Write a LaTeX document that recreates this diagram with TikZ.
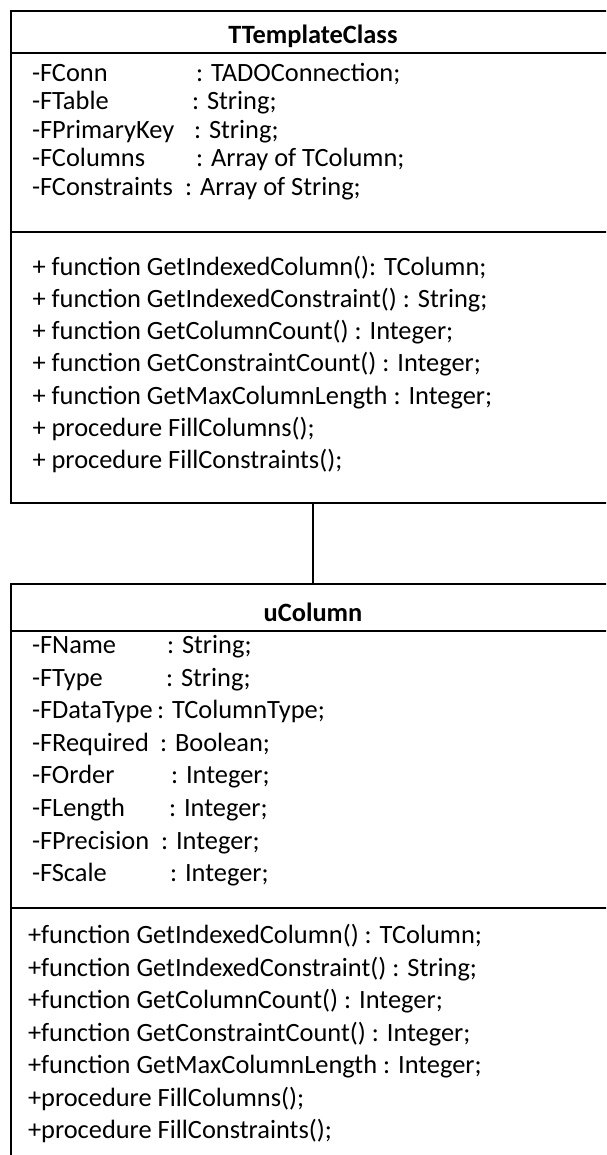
\documentclass[tikz,border=0pt]{standalone}
\usepackage{fontspec}
\setmainfont{Carlito}
\begin{document}
\begin{tikzpicture}[x=1pt,y=-1pt,line width=2pt,
  classbox/.style={draw,rectangle,anchor=north west,minimum width=604pt,outer sep=0pt,inner sep=0pt},
  row/.style={anchor=base west,inner sep=0pt,font=\fontsize{26.4}{32}\selectfont},
  classname/.style={anchor=base,inner sep=0pt,font=\fontsize{26.4}{32}\selectfont\bfseries}]
\useasboundingbox (0,0) rectangle (606,1155);
\clip (0,0) rectangle (606,1155);

% class boxes
\node[classbox,minimum height=492pt] (tmpl) at (11,11) {};
\node[classbox,minimum height=640pt] (ucol) at (11,584) {};

% compartment separators
\draw ([yshift=-42pt]tmpl.north west) -- ([yshift=-42pt]tmpl.north east);
\draw ([yshift=-221pt]tmpl.north west) -- ([yshift=-221pt]tmpl.north east);
\draw ([yshift=-47pt]ucol.north west) -- ([yshift=-47pt]ucol.north east);
\draw ([yshift=-324pt]ucol.north west) -- ([yshift=-324pt]ucol.north east);

% association
\draw (tmpl.south) -- (ucol.north);

% TTemplateClass
\node[classname] (tmplname) at (313,44) {TTemplateClass};
\node[row] (ta1) at (31,81.2)  {-FConn};
\node[row] (tt1) at (195,81.2) {: TADOConnection;};
\node[row] (ta2) at (31,109.7) {-FTable};
\node[row] (tt2) at (191,109.7) {: String;};
\node[row] (ta3) at (31,138.2) {-FPrimaryKey};
\node[row] (tt3) at (193,138.2) {: String;};
\node[row] (ta4) at (31,166.7) {-FColumns};
\node[row] (tt4) at (195,166.7) {: Array of TColumn;};
\node[row] (ta5) at (31,195.2) {-FConstraints};
\node[row] (tt5) at (184,195.2) {: Array of String;};

\node[row] (tm1) at (31.5,275.2) {+ function GetIndexedColumn(): TColumn;};
\node[row] (tm2) at (31.5,307.4) {+ function GetIndexedConstraint() : String;};
\node[row] (tm3) at (31.5,339.6) {+ function GetColumnCount() : Integer;};
\node[row] (tm4) at (31.5,371.8) {+ function GetConstraintCount() : Integer;};
\node[row] (tm5) at (31.5,404.0) {+ function GetMaxColumnLength : Integer;};
\node[row] (tm6) at (31.5,436.2) {+ procedure FillColumns();};
\node[row] (tm7) at (31.5,468.4) {+ procedure FillConstraints();};

% uColumn
\node[classname] (ucolname) at (313,621.5) {uColumn};
\node[row] (ua1) at (31,653.5) {-FName};
\node[row] (ut1) at (166,653.5) {: String;};
\node[row] (ua2) at (31,686.1) {-FType};
\node[row] (ut2) at (165,686.1) {: String;};
\node[row] (ua3) at (31,718.7) {-FDataType};
\node[row] (ut3) at (156,718.7) {: TColumnType;};
\node[row] (ua4) at (31,751.3) {-FRequired};
\node[row] (ut4) at (159,751.3) {: Boolean;};
\node[row] (ua5) at (31,783.9) {-FOrder};
\node[row] (ut5) at (170,783.9) {: Integer;};
\node[row] (ua6) at (31,816.5) {-FLength};
\node[row] (ut6) at (168,816.5) {: Integer;};
\node[row] (ua7) at (31,849.1) {-FPrecision};
\node[row] (ut7) at (160,849.1) {: Integer;};
\node[row] (ua8) at (31,881.7) {-FScale};
\node[row] (ut8) at (169,881.7) {: Integer;};

\node[row] (um1) at (27,943.5)  {+function GetIndexedColumn() : TColumn;};
\node[row] (um2) at (27,976.0)  {+function GetIndexedConstraint() : String;};
\node[row] (um3) at (27,1008.5) {+function GetColumnCount() : Integer;};
\node[row] (um4) at (27,1041.0) {+function GetConstraintCount() : Integer;};
\node[row] (um5) at (27,1073.5) {+function GetMaxColumnLength : Integer;};
\node[row] (um6) at (27,1106.0) {+procedure FillColumns();};
\node[row] (um7) at (27,1138.5) {+procedure FillConstraints();};
\end{tikzpicture}
\end{document}
